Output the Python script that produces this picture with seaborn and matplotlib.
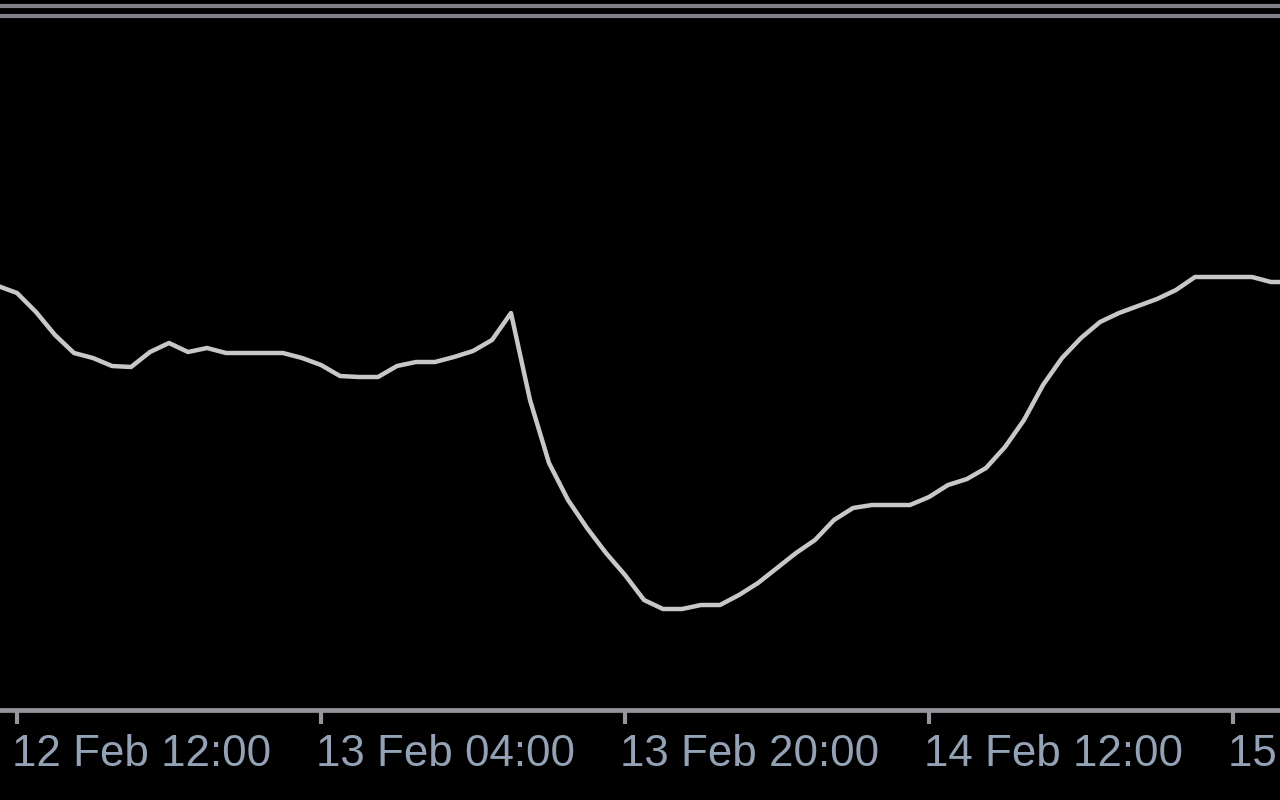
import numpy as np
import pandas as pd
import matplotlib
matplotlib.use("Agg")
import matplotlib.pyplot as plt
import matplotlib.dates as mdates
from matplotlib.transforms import ScaledTranslation
from matplotlib.lines import Line2D
import seaborn as sns

# ---- data (hourly closes) ----
start_time = "2021-02-12 11:00"
closes = [
    1.2714, 1.2707, 1.2688, 1.2665, 1.2647, 1.2642, 1.2634, 1.2633,
    1.2648, 1.2657, 1.2648, 1.2652, 1.2647, 1.2647, 1.2647, 1.2647,
    1.2642, 1.2635, 1.2624, 1.2623, 1.2623, 1.2634, 1.2638, 1.2638,
    1.2643, 1.2649, 1.2660, 1.2687, 1.2600, 1.2537, 1.2500, 1.2472,
    1.2447, 1.2425, 1.2400, 1.2391, 1.2391, 1.2395, 1.2395, 1.2405,
    1.2417, 1.2432, 1.2447, 1.2460, 1.2480, 1.2492, 1.2495, 1.2495,
    1.2495, 1.2503, 1.2515, 1.2521, 1.2532, 1.2553, 1.2580, 1.2615,
    1.2642, 1.2662, 1.2678, 1.2687, 1.2694, 1.2701, 1.2710, 1.2723,
    1.2723, 1.2723, 1.2723, 1.2718, 1.2718,
]
tick_times = ["2021-02-12 12:00", "2021-02-13 04:00", "2021-02-13 20:00",
              "2021-02-14 12:00", "2021-02-15 04:00"]

times = pd.date_range(start_time, periods=len(closes), freq="h")
df = pd.DataFrame({"time": times, "close": closes})

sns.set_style("dark")
plt.rcParams["font.family"] = ["Liberation Sans", "DejaVu Sans"]

fig = plt.figure(figsize=(12.8, 8), dpi=100, facecolor="black")
ax = fig.add_axes([0, 1 - 709.5 / 800, 1, 709.5 / 800])
ax.set_facecolor("black")

sns.lineplot(data=df, x="time", y="close", ax=ax, color="#c8c8c8",
             linewidth=3.2, estimator=None)

t0 = pd.Timestamp("2021-02-12 12:00")
hour = pd.Timedelta(hours=1)
ax.set_xlim(mdates.date2num(t0 - hour * (17 / 19)),
            mdates.date2num(t0 + hour * ((1280 - 17) / 19)))
ax.set_ylim(1.22905, 1.3000)

ticks = pd.to_datetime(tick_times)
ax.set_xticks(mdates.date2num(ticks))
ax.xaxis.set_major_formatter(mdates.DateFormatter("%d %b %H:%M"))
ax.set_yticks([])
ax.set_xlabel("")
ax.set_ylabel("")
ax.grid(False)

for s in ["top", "left", "right"]:
    ax.spines[s].set_visible(False)
ax.spines["bottom"].set_visible(True)
ax.spines["bottom"].set_color("#96969c")
ax.spines["bottom"].set_linewidth(3.4)

ax.tick_params(axis="x", bottom=True, colors="#96969c", length=10, width=3.0,
               direction="out", pad=8, labelsize=31.6, labelcolor="#93a3b5")
off = ScaledTranslation(-5 / 100, 0, fig.dpi_scale_trans)
for lab in ax.get_xticklabels():
    lab.set_horizontalalignment("left")
    lab.set_transform(lab.get_transform() + off)

# double separator lines at the top
for ypx in (6, 16):
    fig.add_artist(Line2D([0, 1], [1 - ypx / 800] * 2, transform=fig.transFigure,
                          color="#808088", linewidth=3.0))

fig.savefig("out.png", dpi=100, facecolor="black")
